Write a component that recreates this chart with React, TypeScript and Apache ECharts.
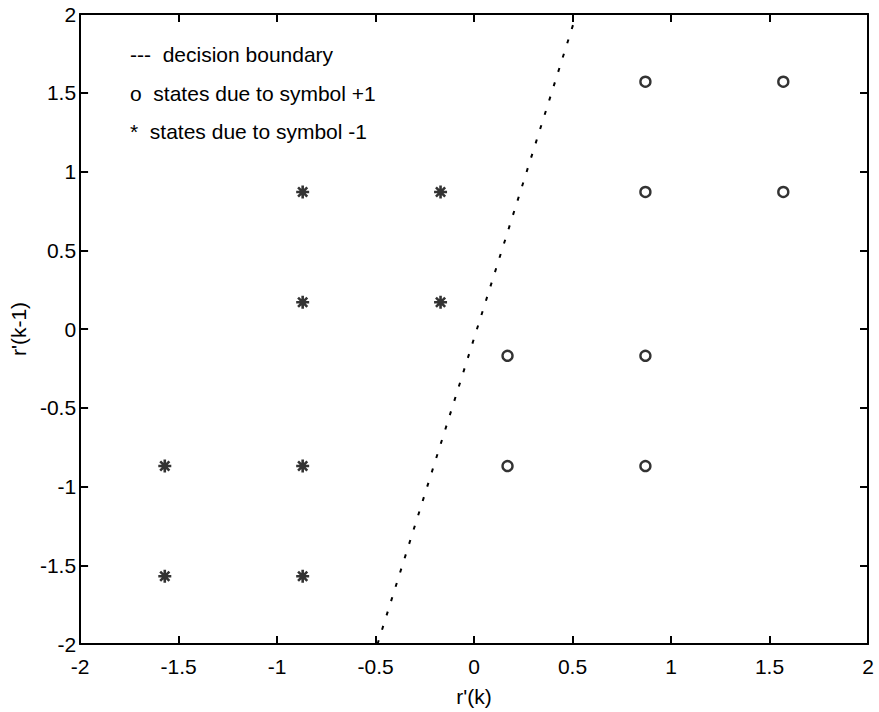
import React, { useEffect, useRef } from "react";
import * as echarts from "echarts";

const xTicks = [-2, -1.5, -1, -0.5, 0, 0.5, 1, 1.5, 2];
const yTicks = [-2, -1.5, -1, -0.5, 0, 0.5, 1, 1.5, 2];

const plusStates: [number, number][] = [
  [0.87, 1.57], [1.57, 1.57],
  [0.87, 0.87], [1.57, 0.87],
  [0.17, -0.17], [0.87, -0.17],
  [0.17, -0.87], [0.87, -0.87],
];
const minusStates: [number, number][] = [
  [-0.87, 0.87], [-0.17, 0.87],
  [-0.87, 0.17], [-0.17, 0.17],
  [-1.57, -0.87], [-0.87, -0.87],
  [-1.57, -1.57], [-0.87, -1.57],
];
const boundaryX = [-0.49, 0.52];
const boundaryY = [-2, 2];

const legendLines = [
  "---  decision boundary",
  "o  states due to symbol +1",
  "*  states due to symbol -1",
];

const FONT = "'Liberation Sans', Arial, Helvetica, sans-serif";

const STAR =
  "path://M0 8L20 8L20 12L0 12Z" +
  "M8 0L12 0L12 20L8 20Z" +
  "M4.34 1.51L18.48 15.66L15.66 18.48L1.51 4.34Z" +
  "M1.51 15.66L15.66 1.51L18.48 4.34L4.34 18.48Z";

export default function App() {
  const ref = useRef<HTMLDivElement>(null);
  useEffect(() => {
    if (!ref.current) return;
    const chart = echarts.init(ref.current, null, { renderer: "svg" });
    const axisCommon = {
      type: "value" as const,
      min: -2,
      max: 2,
      interval: 0.5,
      splitLine: { show: false },
      axisLine: { show: true, onZero: false, lineStyle: { color: "#000", width: 2 } },
      axisTick: { show: true, inside: true, length: 8, lineStyle: { color: "#000", width: 2 } },
    };
    chart.setOption({
      animation: false,
      backgroundColor: "#fff",
      textStyle: { fontFamily: FONT },
      grid: { left: 77, right: 11, top: 14, bottom: 63, containLabel: false },
      xAxis: [
        {
          ...axisCommon,
          position: "bottom",
          name: "r'(k)",
          nameLocation: "middle",
          nameGap: 42,
          nameTextStyle: { color: "#000", fontSize: 21, fontFamily: FONT },
          axisLabel: {
            color: "#000",
            fontSize: 21,
            fontFamily: FONT,
            margin: 12,
            formatter: (v: number) => (xTicks.includes(v) ? String(v) : ""),
          },
        },
        {
          ...axisCommon,
          position: "top",
          axisLabel: { show: false },
        },
      ],
      yAxis: [
        {
          ...axisCommon,
          position: "left",
          name: "r'(k-1)",
          nameLocation: "middle",
          nameGap: 46,
          nameTextStyle: { color: "#000", fontSize: 21, fontFamily: FONT },
          axisLabel: {
            color: "#000",
            fontSize: 21,
            fontFamily: FONT,
            margin: 4,
            formatter: (v: number) => (yTicks.includes(v) ? String(v) : ""),
          },
        },
        {
          ...axisCommon,
          position: "right",
          axisLabel: { show: false },
        },
      ],
      series: [
        {
          type: "line",
          xAxisIndex: 0,
          yAxisIndex: 0,
          data: boundaryX.map((x, i) => [x, boundaryY[i]]),
          symbol: "none",
          lineStyle: { color: "#000", width: 2, type: [4, 11] },
          silent: true,
        },
        {
          type: "scatter",
          xAxisIndex: 0,
          yAxisIndex: 0,
          data: plusStates,
          symbol: "circle",
          symbolSize: 10,
          itemStyle: { color: "#fff", borderColor: "#000", borderWidth: 2.4 },
        },
        {
          type: "scatter",
          xAxisIndex: 0,
          yAxisIndex: 0,
          data: minusStates,
          symbol: STAR,
          symbolSize: 13,
          itemStyle: { color: "#000" },
        },
      ],
      graphic: legendLines.map((t, i) => ({
        type: "text",
        left: 130,
        top: [55, 94, 132][i] - 11,
        style: { text: t, fill: "#000", font: `21px ${FONT}` },
      })),
    });
    return () => chart.dispose();
  }, []);
  return (
    <div
      ref={ref}
      style={{ position: "fixed", left: 0, top: 0, width: 879, height: 712, background: "#fff" }}
    />
  );
}
